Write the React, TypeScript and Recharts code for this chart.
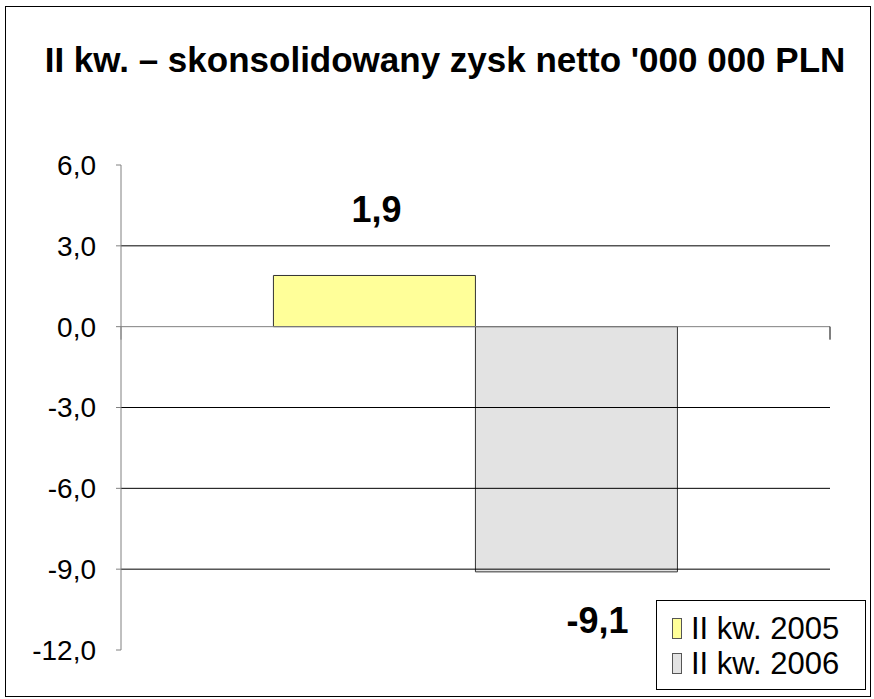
import { Bar, BarChart, XAxis, YAxis, ReferenceLine, LabelList } from "recharts"

const categories = ["II kw."]
const series2005 = [1.9]
const series2006 = [-9.1]
const seriesNames = ["II kw. 2005", "II kw. 2006"]
const seriesColors = ["#FFFF99", "#E3E3E3"]
const yTicks = [-12, -9, -6, -3, 0, 3, 6]
const gridValues = [3, -3, -6, -9]

const data = categories.map((name, i) => ({
  name,
  a: series2005[i],
  b: series2006[i],
}))

const FONT = "'Liberation Sans', Arial, sans-serif"

const fmt = (v: number) => v.toFixed(1).replace(".", ",")

function ValueLabel(props: any) {
  const { x, y, width, height, value } = props
  const top = Math.min(y, y + height)
  const bottom = Math.max(y, y + height)
  const cx = x + width / 2
  const pos = value >= 0
  return (
    <text
      x={pos ? cx + 2 : cx + 21}
      y={pos ? top - 53 : bottom + 61}
      textAnchor="middle"
      fontFamily={FONT}
      fontWeight="bold"
      fontSize={36}
      fill="#000"
    >
      {fmt(value)}
    </text>
  )
}

function ZeroLine(props: any) {
  const { x1, y1, x2, y2 } = props
  return (
    <g>
      <line x1={x1} y1={y1} x2={x2} y2={y2} stroke="#808080" strokeWidth={1} />
      <line x1={x2} y1={y2} x2={x2} y2={y2 + 13} stroke="#000" strokeWidth={1} />
      <line x1={x1} y1={y1} x2={x1} y2={y1 + 13} stroke="#808080" strokeWidth={1} />
    </g>
  )
}

function LegendBox() {
  return (
    <div
      style={{
        position: "absolute",
        left: 656,
        top: 600,
        border: "1px solid #000",
        background: "#fff",
        width: 210,
        height: 90,
        boxSizing: "border-box",
        paddingTop: 10,
        fontFamily: FONT,
        fontSize: 31,
      }}
    >
      {seriesNames.map((n, i) => (
        <div key={n} style={{ display: "flex", alignItems: "center", height: 35, paddingLeft: 15 }}>
          <span
            style={{
              display: "inline-block",
              width: 10,
              height: 21,
              background: seriesColors[i],
              border: "1px solid #555",
              boxSizing: "border-box",
              marginRight: 9,
            }}
          />
          <span style={{ color: "#000", lineHeight: "35px" }}>{n}</span>
        </div>
      ))}
    </div>
  )
}

export default function App() {
  return (
    <div style={{ position: "absolute", left: 0, top: 0, width: 874, height: 699, background: "#fff" }}>
      <div
        style={{
          position: "absolute",
          left: 5,
          top: 6,
          width: 866,
          height: 691,
          border: "1px solid #000",
          boxSizing: "border-box",
        }}
      />
      <div
        style={{
          position: "absolute",
          left: 0,
          width: 890,
          top: 40,
          textAlign: "center",
          fontFamily: FONT,
          fontWeight: "bold",
          fontSize: 35,
          lineHeight: "40px",
          color: "#000",
          whiteSpace: "nowrap",
        }}
      >
        II kw. – skonsolidowany zysk netto '000 000 PLN
      </div>
      <div style={{ position: "absolute", left: 0, top: 0 }}>
        <BarChart
          width={874}
          height={699}
          data={data}
          margin={{ top: 165, right: 44, bottom: 49, left: 0 }}
          barCategoryGap="21.5%"
          barGap={0}
        >
          <XAxis dataKey="name" hide />
          <YAxis
            width={121}
            domain={[-12, 6]}
            ticks={yTicks}
            interval={0}
            tickFormatter={fmt}
            tickSize={5}
            tickMargin={20}
            stroke="#808080"
            tick={{ fill: "#000", fontSize: 28, fontFamily: FONT }}
          />
          {gridValues.map((v) => (
            <ReferenceLine key={v} y={v} stroke="#000" strokeWidth={1} />
          ))}
          <Bar dataKey="a" name={seriesNames[0]} fill={seriesColors[0]} stroke="#333" strokeWidth={1} isAnimationActive={false}>
            <LabelList dataKey="a" content={<ValueLabel />} />
          </Bar>
          <Bar dataKey="b" name={seriesNames[1]} fill={seriesColors[1]} stroke="#333" strokeWidth={1} isAnimationActive={false}>
            <LabelList dataKey="b" content={<ValueLabel />} />
          </Bar>
          <ReferenceLine y={0} shape={<ZeroLine />} />
        </BarChart>
      </div>
      <LegendBox />
    </div>
  )
}
